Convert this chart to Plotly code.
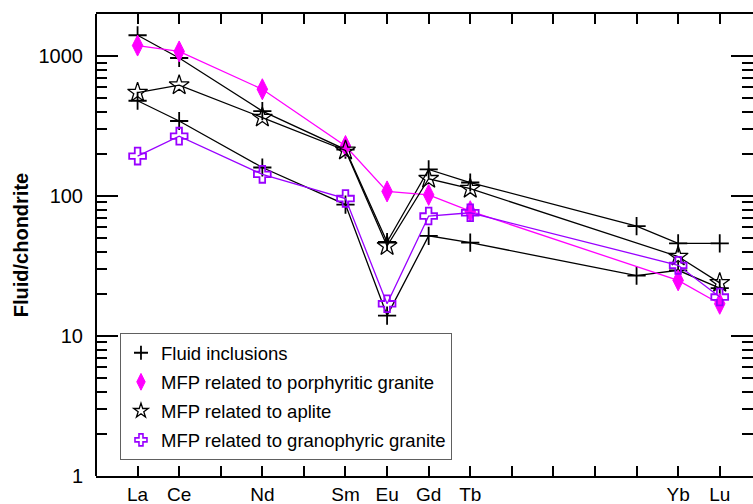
import plotly.graph_objects as go

# Element order on the REE axis (positions 0..14)
elements = ["La", "Ce", "Pr", "Nd", "Pm", "Sm", "Eu", "Gd", "Tb", "Dy", "Ho", "Er", "Tm", "Yb", "Lu"]
tick_labels = ["La", "Ce", "", "Nd", "", "Sm", "Eu", "Gd", "Tb", "", "", "", "", "Yb", "Lu"]

# Fluid inclusions (two analyses)
fi1_el = ["La", "Ce", "Nd", "Sm", "Eu", "Gd", "Tb", "Tm", "Yb", "Lu"]
fi1_val = [1410, 970, 405, 215, 47, 155, 125, 61, 46, 46]
fi2_el = ["La", "Ce", "Nd", "Sm", "Eu", "Gd", "Tb", "Tm", "Yb", "Lu"]
fi2_val = [480, 344, 160, 87, 14, 52, 46.5, 27, 29.5, 22]

# MFP series
mfp_el = ["La", "Ce", "Nd", "Sm", "Eu", "Gd", "Tb", "Yb", "Lu"]
porphyritic_val = [1190, 1080, 580, 228, 108, 102, 78, 25, 17]
aplite_val = [549, 620, 364, 212, 44, 133, 113, 37, 24]
granophyric_val = [193, 268, 143, 96, 17, 72, 76, 32, 19]

legend_names = ["Fluid inclusions", "MFP related to porphyritic granite",
                "MFP related to aplite", "MFP related to granophyric granite"]

MAGENTA = "#FF00FF"
PURPLE = "#9900FF"


def pos(els):
    return [elements.index(e) for e in els]


fig = go.Figure()

cross_marker = dict(symbol="cross-thin", size=13, line=dict(color="black", width=1.8), color="black")
for els, vals in [(fi1_el, fi1_val), (fi2_el, fi2_val)]:
    fig.add_trace(go.Scatter(x=pos(els), y=vals, mode="lines+markers",
                             line=dict(color="black", width=1.3),
                             marker=cross_marker, showlegend=False))

fig.add_trace(go.Scatter(x=pos(mfp_el), y=porphyritic_val, mode="lines+markers",
                         line=dict(color=MAGENTA, width=1.3),
                         marker=dict(symbol="diamond-tall", size=15, color=MAGENTA,
                                     line=dict(color=MAGENTA, width=1)),
                         showlegend=False))
fig.add_trace(go.Scatter(x=pos(mfp_el), y=aplite_val, mode="lines+markers",
                         line=dict(color="black", width=1.3),
                         marker=dict(symbol="star-open", size=15, color="black",
                                     line=dict(color="black", width=1.3)),
                         showlegend=False))
fig.add_trace(go.Scatter(x=pos(mfp_el), y=granophyric_val, mode="lines+markers",
                         line=dict(color=PURPLE, width=1.3),
                         marker=dict(symbol="cross-open", size=14, color=PURPLE,
                                     line=dict(color=PURPLE, width=1.8)),
                         showlegend=False))

# legend-only entries (markers without lines)
leg_markers = [
    dict(symbol="cross-thin", size=10, color="black", line=dict(color="black", width=1.8)),
    dict(symbol="diamond-tall", size=12, color=MAGENTA, line=dict(color=MAGENTA, width=1)),
    dict(symbol="star-open", size=11, color="black", line=dict(color="black", width=1.3)),
    dict(symbol="cross-open", size=10, color=PURPLE, line=dict(color=PURPLE, width=1.6)),
]
for i, (nm, mk) in enumerate(zip(legend_names, leg_markers)):
    fig.add_trace(go.Scatter(x=[None], y=[None], mode="markers", name=nm, marker=mk,
                             legendgroup=f"g{i}", showlegend=True))

minor_vals = [m * 10 ** d for d in range(0, 4) for m in range(2, 10)]

fig.update_layout(
    width=753, height=504,
    margin=dict(l=96, r=0, t=14, b=28),
    paper_bgcolor="white", plot_bgcolor="white",
    font=dict(family="Liberation Sans, Arial, sans-serif", color="black", size=20),
    showlegend=True,
    legend=dict(x=0.0365, y=0.309, xanchor="left", yanchor="top",
                bordercolor="#606060", borderwidth=1, bgcolor="white",
                font=dict(size=18.5, color="black"), tracegroupgap=2,
                itemsizing="trace"),
    xaxis=dict(range=[-1, 14.8], tickvals=list(range(len(elements))), ticktext=tick_labels,
               ticks="inside", ticklen=10, tickwidth=2, tickcolor="black",
               showline=True, linewidth=2, linecolor="black", mirror="ticks",
               showgrid=False, zeroline=False, tickfont=dict(size=19),
               ticklabelstandoff=0, automargin=False),
    yaxis=dict(type="log", range=[0, 3.301], tickvals=[1, 10, 100, 1000],
               ticktext=["1", "10", "100", "1000"],
               ticks="inside", ticklen=22, tickwidth=2, tickcolor="black",
               minor=dict(tickvals=minor_vals, ticks="inside", ticklen=11,
                          tickwidth=2, tickcolor="black", showgrid=False),
               showline=False, mirror="ticks", showgrid=False, zeroline=False,
               tickfont=dict(size=20), ticklabelstandoff=12, automargin=False,
               title=dict(text="<b>Fluid/chondrite</b>", font=dict(size=20), standoff=4)),
    shapes=[dict(type="line", xref="paper", yref="paper", x0=0, x1=0, y0=0, y1=1,
                 line=dict(color="black", width=2))],
)

fig.write_html("out.html")
